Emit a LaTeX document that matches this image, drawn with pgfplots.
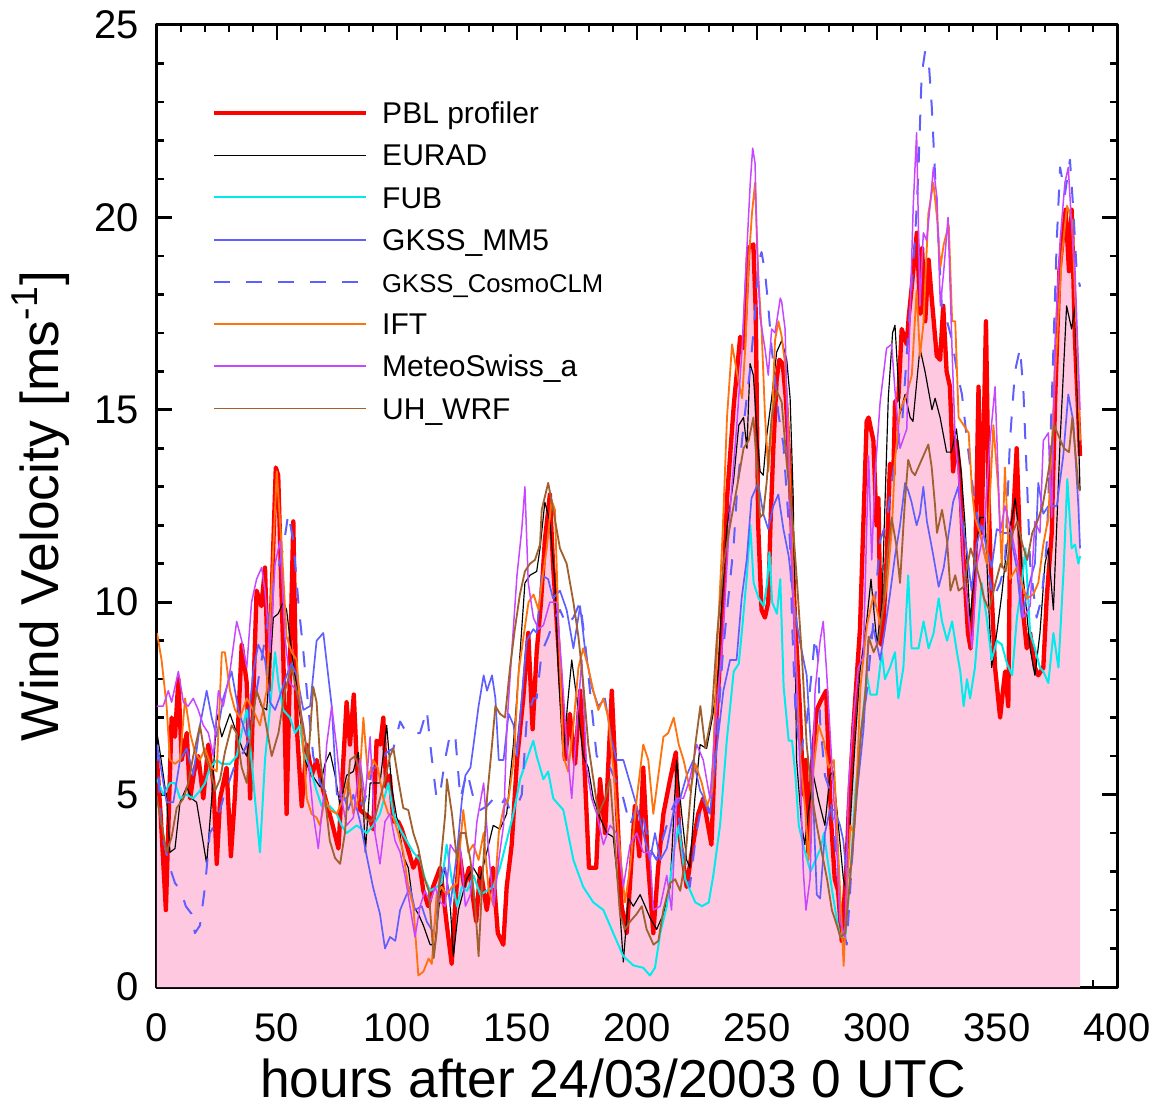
\documentclass[border=0pt]{standalone}
\usepackage{fontspec}
\setmainfont{Liberation Sans}
\usepackage{pgfplots}
\usepackage{pgfplotstable}
\pgfplotsset{compat=1.18}

\definecolor{pblred}{RGB}{255,0,0}
\definecolor{fubcyan}{RGB}{0,235,235}
\definecolor{gkssblue}{RGB}{95,95,255}
\definecolor{iftorange}{RGB}{255,115,15}
\definecolor{meteopurple}{RGB}{200,70,255}
\definecolor{wrfbrown}{RGB}{160,96,48}
\definecolor{pinkfill}{RGB}{255,200,225}

\pgfplotstableread[row sep=\\,header=false]{
0 5.9\\ 1.5 4.5\\ 3.7 2.0\\ 6.1 7.0\\ 7.5 6.5\\ 8.9 8.0\\ 10.3 5.9\\ 12.4 6.6\\ 13.8 4.9\\ 15.5 5.6\\
17.2 6.0\\ 19.3 4.9\\ 21.4 6.3\\ 23.5 5.3\\ 24.9 3.2\\ 26.3 4.9\\ 29.0 5.7\\ 30.8 3.4\\ 32.5 5.0\\ 35.3 8.9\\
37.4 7.9\\ 38.8 4.9\\ 41.5 10.3\\ 43.5 9.9\\ 45.0 10.9\\ 46.5 7.7\\ 49.5 13.5\\ 50.5 13.3\\ 52.6 8.7\\ 54.0 4.5\\
56.8 12.1\\ 58.2 6.8\\ 60.3 4.7\\ 62.4 6.3\\ 64.5 5.5\\ 66.5 5.9\\ 69.3 5.1\\ 72.8 4.3\\ 75.6 3.6\\ 79.0 7.4\\
80.4 6.3\\ 82.0 7.6\\ 83.2 5.9\\ 84.6 4.6\\ 86.5 4.5\\ 88.5 4.4\\ 90.1 4.1\\ 91.5 6.4\\ 93.0 6.3\\ 94.3 7.0\\
95.5 5.2\\ 97.0 5.5\\ 98.5 4.3\\ 100.5 4.3\\ 102.0 4.1\\ 104.0 3.7\\ 106.8 3.1\\ 108.9 3.4\\ 111.0 2.5\\ 113.0 2.1\\
115.0 2.6\\ 118.0 3.1\\ 120.6 1.7\\ 122.8 0.6\\ 124.2 2.1\\ 126.0 3.5\\ 128.0 2.6\\ 130.0 3.1\\ 133.0 1.7\\ 134.7 3.1\\
137.4 2.0\\ 140.0 3.1\\ 142.0 1.4\\ 144.3 1.1\\ 145.7 2.6\\ 147.8 3.7\\ 150.0 5.9\\ 152.6 7.5\\ 154.7 9.2\\ 156.5 6.7\\
158.2 8.7\\ 160.0 10.0\\ 161.6 11.6\\ 163.7 12.8\\ 165.0 11.0\\ 167.9 8.2\\ 170.0 5.9\\ 172.0 7.1\\ 174.2 5.8\\ 176.3 7.7\\
178.0 5.9\\ 180.0 3.1\\ 183.0 3.1\\ 184.6 5.4\\ 186.7 4.0\\ 189.5 7.7\\ 191.5 4.9\\ 193.6 2.1\\ 195.7 1.4\\ 197.0 2.6\\
199.1 4.7\\ 201.0 3.4\\ 202.6 5.7\\ 204.5 3.3\\ 206.8 1.4\\ 208.8 3.1\\ 211.0 4.5\\ 213.8 5.4\\ 216.2 6.1\\ 217.6 4.0\\
220.7 2.6\\ 222.8 3.5\\ 225.5 4.5\\ 227.6 4.9\\ 231.0 3.7\\ 233.0 6.9\\ 234.6 8.5\\ 236.0 10.2\\ 237.5 12.7\\ 240.3 15.1\\
243.0 16.9\\ 244.5 16.6\\ 246.4 19.2\\ 248.5 19.3\\ 249.5 17.5\\ 250.5 12.0\\ 251.9 9.8\\ 253.3 9.6\\ 254.7 10.0\\ 255.6 12.0\\
256.8 14.0\\ 258.2 15.8\\ 259.3 16.3\\ 260.7 16.2\\ 262.0 15.3\\ 263.5 13.6\\ 265.7 9.8\\ 267.9 7.2\\ 269.3 5.0\\ 270.4 5.9\\
271.4 3.5\\ 272.8 5.7\\ 274.9 7.2\\ 276.3 7.4\\ 278.8 7.7\\ 279.9 5.9\\ 281.0 4.2\\ 282.4 2.8\\ 283.8 2.5\\ 285.3 1.2\\
287.4 3.3\\ 288.2 4.6\\ 290.1 6.7\\ 292.9 9.3\\ 295.7 14.7\\ 296.5 14.8\\ 298.5 14.2\\ 299.8 12.0\\ 300.6 12.7\\ 301.6 8.9\\
302.6 9.3\\ 304.0 11.1\\ 305.4 13.6\\ 306.8 13.3\\ 307.5 15.2\\ 308.9 15.3\\ 310.3 17.1\\ 312.4 16.7\\ 313.2 17.4\\ 314.5 18.2\\
316.6 19.6\\ 318.0 17.5\\ 318.8 19.2\\ 320.1 17.3\\ 321.5 18.9\\ 322.8 17.9\\ 324.9 16.4\\ 326.3 16.3\\ 327.6 17.7\\ 329.0 16.0\\
330.4 15.6\\ 331.7 13.4\\ 333.1 14.2\\ 334.5 13.4\\ 335.8 11.4\\ 337.9 9.2\\ 339.0 8.8\\ 340.9 10.9\\ 342.3 15.6\\ 343.6 11.8\\
345.4 17.3\\ 346.6 12.5\\ 347.8 10.2\\ 349.2 8.3\\ 351.3 7.0\\ 352.3 7.6\\ 353.4 8.2\\ 354.7 7.3\\ 355.4 11.4\\ 357.0 12.5\\
358.2 14.0\\ 360.3 10.1\\ 362.4 8.8\\ 363.8 9.2\\ 365.8 8.3\\ 367.2 8.1\\ 369.3 8.3\\ 370.7 10.1\\ 372.8 11.8\\ 374.2 15.2\\
376.0 18.6\\ 378.6 20.2\\ 380.0 18.6\\ 381.1 20.2\\ 382.5 16.8\\ 384.6 13.8\\
}\tabpbl

\pgfplotstableread[row sep=\\,header=false]{
0 6.6\\ 1.5 6.0\\ 4.0 4.9\\ 5.4 3.5\\ 7.5 3.6\\ 9.6 4.8\\ 12.4 5.2\\ 14.4 4.9\\ 16.5 4.8\\ 18.6 4.0\\
20.7 3.2\\ 22.8 4.9\\ 24.9 7.1\\ 27.0 6.5\\ 30.4 7.1\\ 33.2 6.6\\ 35.5 6.2\\ 37.4 6.0\\ 39.4 6.8\\ 41.5 7.7\\
43.5 7.3\\ 45.7 7.2\\ 48.5 9.6\\ 50.5 9.7\\ 52.6 10.0\\ 54.0 9.8\\ 56.1 8.7\\ 58.2 7.8\\ 61.7 5.9\\ 63.7 5.6\\
65.8 5.4\\ 67.9 5.2\\ 70.0 5.8\\ 72.1 6.1\\ 74.2 5.5\\ 76.3 4.7\\ 79.0 5.5\\ 81.8 5.6\\ 83.9 6.1\\ 86.0 4.7\\
86.8 3.5\\ 88.8 5.3\\ 91.0 5.3\\ 92.9 5.3\\ 95.7 6.8\\ 97.8 5.2\\ 99.9 4.4\\ 100.5 4.3\\ 102.6 3.4\\ 104.7 3.1\\
106.8 2.1\\ 108.9 1.9\\ 111.0 1.6\\ 113.8 1.1\\ 115.8 1.1\\ 118.0 2.4\\ 120.0 3.1\\ 122.0 2.3\\ 123.5 0.8\\ 125.6 2.0\\
129.0 2.8\\ 131.8 3.1\\ 134.6 2.8\\ 137.4 3.5\\ 140.1 4.2\\ 142.9 4.1\\ 145.7 4.5\\ 148.5 6.3\\ 151.3 8.7\\ 153.3 10.5\\
155.4 10.7\\ 158.2 10.8\\ 159.6 11.4\\ 161.6 12.6\\ 163.7 12.1\\ 165.8 10.5\\ 167.2 8.2\\ 169.3 6.0\\ 171.0 7.3\\ 172.8 8.5\\
174.9 7.5\\ 177.6 6.0\\ 179.7 5.7\\ 181.8 4.9\\ 184.6 4.4\\ 187.4 4.0\\ 190.1 3.9\\ 192.2 2.6\\ 194.3 0.65\\ 196.4 2.3\\
198.5 2.1\\ 201.3 2.4\\ 203.4 2.1\\ 205.4 1.8\\ 208.2 1.5\\ 211.0 1.9\\ 213.8 2.6\\ 216.5 5.9\\ 218.6 4.5\\ 220.7 3.3\\
222.0 3.1\\ 224.1 4.9\\ 226.3 6.3\\ 229.0 6.2\\ 231.7 7.1\\ 233.9 8.2\\ 235.0 9.6\\ 237.4 11.9\\ 240.3 13.2\\ 242.4 14.6\\
244.4 14.8\\ 245.8 14.0\\ 247.1 16.2\\ 248.5 15.9\\ 249.9 14.5\\ 251.3 13.4\\ 252.6 13.3\\ 254.0 14.3\\ 256.1 15.3\\ 258.2 16.5\\
260.3 16.8\\ 262.4 16.3\\ 263.8 15.3\\ 265.1 12.7\\ 266.5 5.9\\ 268.6 4.2\\ 269.9 3.7\\ 271.3 4.5\\ 273.5 5.5\\ 275.5 4.9\\
278.3 4.2\\ 280.4 5.5\\ 281.8 5.6\\ 283.9 4.2\\ 286.0 2.8\\ 287.4 2.5\\ 288.8 4.2\\ 290.8 6.3\\ 292.9 8.2\\ 295.7 9.5\\
297.5 10.6\\ 300.0 8.9\\ 302.0 9.9\\ 304.7 15.3\\ 306.5 17.0\\ 307.5 17.2\\ 309.6 14.9\\ 311.7 15.4\\ 313.8 14.8\\ 315.0 14.7\\
317.9 16.6\\ 320.0 16.0\\ 322.9 15.0\\ 324.2 15.3\\ 326.3 14.8\\ 329.0 13.9\\ 331.0 13.9\\ 333.1 14.5\\ 335.2 13.3\\ 336.6 12.1\\
338.8 9.5\\ 340.8 11.0\\ 342.9 12.2\\ 345.0 12.2\\ 346.4 10.1\\ 347.8 8.3\\ 349.9 9.2\\ 352.0 10.2\\ 354.2 11.5\\ 356.3 12.2\\
357.6 12.7\\ 359.7 11.4\\ 361.8 10.1\\ 363.8 8.8\\ 365.8 8.1\\ 367.9 9.2\\ 370.0 11.0\\ 371.4 11.4\\ 373.5 9.8\\ 376.3 14.2\\
379.0 17.7\\ 381.1 17.1\\ 382.5 17.7\\ 384.6 12.9\\
}\tabeurad

\pgfplotstableread[row sep=\\,header=false]{
0 5.4\\ 2.6 5.0\\ 5.4 5.3\\ 7.5 5.3\\ 9.6 4.9\\ 12.4 5.0\\ 15.1 4.9\\ 17.9 5.1\\ 20.0 5.3\\ 22.0 5.7\\
24.9 5.9\\ 26.9 5.8\\ 30.4 5.8\\ 33.2 6.0\\ 35.9 6.8\\ 37.4 7.2\\ 38.8 6.3\\ 40.8 4.9\\ 42.9 3.5\\ 45.0 5.9\\
47.0 7.2\\ 49.2 8.7\\ 50.6 7.9\\ 52.6 7.2\\ 55.4 7.0\\ 57.5 6.6\\ 59.6 6.8\\ 61.0 6.1\\ 63.8 5.7\\ 66.5 5.1\\
68.6 4.7\\ 72.0 4.7\\ 74.9 4.5\\ 76.9 4.2\\ 79.0 4.0\\ 83.2 4.2\\ 87.4 4.0\\ 90.1 4.2\\ 92.9 4.5\\ 96.4 5.3\\
98.5 4.5\\ 101.3 4.1\\ 104.0 3.8\\ 106.8 3.5\\ 109.6 3.3\\ 111.7 2.8\\ 113.8 2.5\\ 116.5 2.6\\ 118.6 2.7\\ 120.7 3.7\\
122.8 2.8\\ 125.0 2.1\\ 127.0 2.6\\ 129.2 2.5\\ 131.9 2.9\\ 134.7 2.4\\ 137.4 2.5\\ 140.1 2.6\\ 142.9 3.1\\ 145.7 3.8\\
148.5 4.5\\ 151.3 5.4\\ 154.0 5.9\\ 156.8 6.4\\ 158.2 6.0\\ 161.0 5.4\\ 163.0 5.6\\ 165.1 4.9\\ 169.3 4.6\\ 173.5 3.3\\
177.6 2.6\\ 181.8 2.2\\ 186.0 2.0\\ 190.1 1.4\\ 194.3 0.8\\ 198.5 0.56\\ 202.6 0.5\\ 205.4 0.3\\ 207.5 0.5\\ 209.7 1.4\\
212.4 2.1\\ 215.3 3.5\\ 217.4 4.2\\ 220.1 2.8\\ 224.3 2.2\\ 227.1 2.1\\ 229.9 2.2\\ 231.8 2.9\\ 234.6 4.2\\ 237.4 6.4\\
240.3 8.2\\ 242.4 8.4\\ 243.8 9.3\\ 245.8 10.7\\ 247.2 12.0\\ 248.6 10.5\\ 250.7 10.1\\ 252.8 9.9\\ 254.2 10.5\\ 255.2 11.3\\
256.3 10.0\\ 258.3 9.7\\ 259.7 10.6\\ 261.1 7.8\\ 263.2 6.4\\ 264.6 6.4\\ 266.0 5.5\\ 267.4 4.2\\ 269.6 3.6\\ 272.3 3.0\\
274.4 3.3\\ 276.5 3.6\\ 277.9 4.0\\ 279.2 3.4\\ 281.3 2.5\\ 283.4 1.7\\ 284.7 1.3\\ 286.8 1.3\\ 288.9 2.9\\ 291.0 5.1\\
293.8 6.9\\ 295.8 8.1\\ 297.2 7.6\\ 299.9 7.6\\ 302.0 8.7\\ 303.3 8.0\\ 305.4 8.3\\ 307.5 8.7\\ 308.9 7.5\\ 311.0 8.3\\
313.0 10.7\\ 314.4 8.8\\ 317.3 8.8\\ 319.4 9.5\\ 321.5 8.8\\ 323.6 9.2\\ 325.7 10.1\\ 327.1 9.5\\ 329.2 9.0\\ 331.3 9.5\\
333.3 8.7\\ 334.7 8.2\\ 336.1 7.3\\ 337.5 8.0\\ 338.8 7.5\\ 340.8 8.3\\ 343.6 10.5\\ 345.7 9.6\\ 347.8 8.5\\ 349.9 9.0\\
352.0 8.9\\ 354.2 8.4\\ 356.3 8.1\\ 358.3 9.6\\ 360.4 10.5\\ 361.8 11.4\\ 363.8 9.2\\ 365.8 8.8\\ 367.9 8.3\\ 369.3 8.2\\
371.4 7.9\\ 373.5 9.2\\ 375.6 8.3\\ 377.8 10.9\\ 379.3 13.2\\ 381.1 11.4\\ 382.5 11.5\\ 383.9 11.0\\ 384.6 11.2\\
}\tabfub

\pgfplotstableread[row sep=\\,header=false]{
0 6.3\\ 4.0 4.8\\ 6.8 4.8\\ 9.6 5.9\\ 12.4 6.2\\ 15.1 5.5\\ 17.9 6.8\\ 20.7 7.7\\ 22.8 7.0\\ 24.9 6.5\\
27.6 7.5\\ 31.1 8.2\\ 33.9 7.2\\ 37.4 6.5\\ 40.1 8.2\\ 42.2 8.9\\ 45.0 8.5\\ 47.1 7.4\\ 49.2 7.2\\ 52.0 7.7\\
54.0 8.1\\ 56.1 8.4\\ 58.2 8.1\\ 61.0 7.2\\ 63.8 7.3\\ 66.5 9.0\\ 69.3 9.2\\ 72.8 7.3\\ 74.9 5.0\\ 77.6 5.0\\
79.7 4.6\\ 81.8 5.0\\ 84.6 4.3\\ 87.4 3.4\\ 90.0 2.6\\ 92.9 1.9\\ 95.0 1.0\\ 97.1 1.3\\ 99.3 1.2\\ 101.3 2.0\\
103.3 2.3\\ 105.4 2.6\\ 107.5 2.0\\ 110.3 2.1\\ 112.4 1.7\\ 115.3 1.4\\ 118.0 2.9\\ 120.1 3.1\\ 122.2 2.1\\ 125.0 3.5\\
127.1 4.9\\ 128.5 5.5\\ 130.6 5.7\\ 131.9 6.3\\ 134.0 7.3\\ 136.1 8.1\\ 137.5 7.7\\ 139.6 8.1\\ 141.0 7.5\\ 142.4 5.9\\
144.4 5.9\\ 146.5 7.1\\ 148.6 6.8\\ 150.0 6.0\\ 152.0 7.5\\ 154.0 9.0\\ 156.8 9.3\\ 158.2 9.2\\ 160.3 10.7\\ 163.0 10.6\\
165.0 10.1\\ 167.9 10.3\\ 170.7 9.8\\ 173.5 8.8\\ 176.3 9.9\\ 178.3 8.8\\ 181.1 7.8\\ 183.9 7.3\\ 186.7 7.5\\ 189.4 6.4\\
191.5 5.9\\ 194.3 5.9\\ 197.1 5.3\\ 199.9 4.7\\ 202.6 4.0\\ 205.4 3.3\\ 207.5 4.0\\ 209.7 3.3\\ 212.4 3.6\\ 215.3 4.6\\
218.0 4.9\\ 220.7 5.5\\ 223.5 5.9\\ 226.3 5.1\\ 229.0 4.8\\ 230.4 4.5\\ 233.2 6.2\\ 236.0 7.7\\ 238.8 8.5\\ 241.5 8.5\\
243.6 10.1\\ 245.7 11.1\\ 247.7 12.7\\ 250.5 13.1\\ 252.6 12.3\\ 254.7 11.9\\ 256.8 12.5\\ 258.9 12.8\\ 261.0 11.9\\ 263.2 11.2\\
264.6 10.4\\ 266.7 9.4\\ 268.1 8.9\\ 270.7 8.1\\ 272.8 5.9\\ 274.9 2.4\\ 276.3 2.3\\ 278.3 4.0\\ 280.4 4.6\\ 282.5 4.6\\
284.6 4.2\\ 286.0 3.8\\ 287.4 2.8\\ 289.5 3.2\\ 291.6 5.0\\ 294.4 6.7\\ 296.5 9.0\\ 298.6 9.3\\ 301.3 8.5\\ 303.3 9.3\\
305.4 10.2\\ 307.5 11.2\\ 309.6 12.0\\ 311.7 13.1\\ 313.0 12.9\\ 314.4 12.6\\ 316.5 12.0\\ 317.9 12.3\\ 319.3 13.0\\ 320.8 12.1\\
323.5 11.2\\ 325.7 10.4\\ 327.8 10.9\\ 329.9 11.8\\ 331.7 12.6\\ 333.8 13.0\\ 335.2 12.2\\ 337.3 11.4\\ 339.4 10.3\\ 341.5 11.5\\
343.6 12.0\\ 345.7 11.4\\ 347.8 10.9\\ 349.9 11.9\\ 352.6 11.8\\ 355.4 11.8\\ 358.2 10.9\\ 360.3 9.6\\ 362.4 10.2\\ 364.4 10.7\\
365.8 11.0\\ 367.2 13.1\\ 369.3 12.3\\ 371.4 12.5\\ 374.9 12.5\\ 377.6 13.8\\ 379.7 15.4\\ 381.8 14.7\\ 383.9 12.5\\ 384.6 11.4\\
}\tabmm

\pgfplotstableread[row sep=\\,header=false]{
0 6.3\\ 1.9 4.0\\ 5.4 3.1\\ 7.5 2.7\\ 10.0 2.5\\ 12.0 2.1\\ 14.4 1.9\\ 15.8 1.4\\ 17.9 1.6\\ 20.0 2.6\\
22.0 4.0\\ 24.9 4.3\\ 27.6 4.9\\ 30.4 5.4\\ 33.2 5.9\\ 36.0 6.1\\ 38.8 6.5\\ 41.5 7.7\\ 43.6 8.5\\ 46.4 9.6\\
48.5 10.5\\ 50.6 10.9\\ 52.6 11.4\\ 54.7 12.3\\ 56.8 11.6\\ 58.9 10.0\\ 61.0 8.7\\ 63.0 7.3\\ 65.1 6.0\\ 67.9 5.3\\
72.0 4.9\\ 76.3 4.9\\ 79.0 4.9\\ 80.4 5.1\\ 86.0 4.7\\ 90.0 5.7\\ 92.9 5.7\\ 95.7 6.1\\ 98.5 6.2\\ 101.3 6.9\\
104.0 6.6\\ 106.8 6.6\\ 109.6 6.6\\ 112.4 7.2\\ 114.4 6.0\\ 116.5 4.9\\ 117.9 5.0\\ 120.0 5.9\\ 122.2 6.6\\ 124.3 6.5\\
126.4 4.9\\ 129.2 5.6\\ 131.9 4.9\\ 134.7 4.6\\ 137.5 4.7\\ 140.3 4.9\\ 143.0 4.7\\ 145.0 4.9\\ 147.1 4.6\\ 150.0 4.7\\
152.0 5.0\\ 154.0 6.9\\ 156.8 7.5\\ 158.2 7.5\\ 160.3 8.7\\ 163.0 9.1\\ 165.8 9.6\\ 167.9 9.8\\ 170.7 9.4\\ 173.5 9.6\\
176.3 10.0\\ 178.3 9.0\\ 180.4 7.7\\ 183.2 6.0\\ 185.3 5.9\\ 188.8 5.7\\ 191.5 5.3\\ 194.3 4.9\\ 197.1 4.2\\ 199.9 4.7\\
202.6 4.4\\ 205.4 3.6\\ 208.2 3.3\\ 211.0 3.9\\ 213.8 4.5\\ 216.5 4.9\\ 219.3 3.5\\ 222.0 2.6\\ 224.7 4.0\\ 227.5 4.9\\
230.3 4.5\\ 233.0 6.2\\ 235.8 8.7\\ 238.7 10.5\\ 240.3 11.5\\ 241.7 12.9\\ 244.4 14.6\\ 247.2 16.1\\ 249.2 17.5\\ 250.5 18.8\\
251.9 19.1\\ 253.3 18.6\\ 254.7 17.7\\ 256.1 16.6\\ 257.5 15.8\\ 258.9 14.9\\ 261.0 14.1\\ 262.4 12.8\\ 263.8 11.5\\ 264.6 9.5\\
266.0 7.2\\ 268.0 6.0\\ 270.7 6.9\\ 272.5 8.0\\ 274.2 9.1\\ 275.5 8.5\\ 276.3 6.9\\ 278.3 5.5\\ 280.4 5.1\\ 283.2 3.3\\
285.3 1.7\\ 287.4 1.1\\ 288.8 2.5\\ 290.8 4.6\\ 292.9 6.4\\ 295.8 7.7\\ 298.5 9.5\\ 301.3 11.6\\ 304.0 12.1\\ 306.8 13.4\\
309.6 14.5\\ 310.4 14.6\\ 313.8 17.7\\ 315.8 19.4\\ 317.2 21.1\\ 318.6 23.7\\ 320.0 24.3\\ 321.4 24.2\\ 322.8 22.9\\ 324.2 21.1\\
325.6 19.4\\ 327.0 17.7\\ 329.2 17.3\\ 331.3 16.8\\ 333.3 16.0\\ 335.4 15.4\\ 337.5 14.2\\ 340.3 12.8\\ 343.0 11.8\\ 345.7 11.0\\
348.5 10.1\\ 351.3 10.5\\ 353.3 11.0\\ 355.4 14.2\\ 357.5 16.0\\ 359.6 16.6\\ 361.0 15.5\\ 362.4 13.3\\ 363.8 11.0\\ 366.5 9.6\\
368.6 10.1\\ 370.7 11.5\\ 372.8 15.2\\ 374.9 19.4\\ 376.3 21.3\\ 378.3 20.6\\ 380.4 21.5\\ 381.8 20.2\\ 383.2 18.6\\ 384.6 18.2\\
}\tabclm

\pgfplotstableread[row sep=\\,header=false]{
0 9.2\\ 1.9 8.5\\ 4.0 7.3\\ 5.4 5.9\\ 7.5 5.8\\ 9.6 5.9\\ 11.7 7.5\\ 13.8 6.6\\ 15.8 6.1\\ 17.9 5.9\\
20.0 6.2\\ 22.8 5.7\\ 24.9 5.6\\ 27.0 8.7\\ 28.3 8.7\\ 30.4 7.7\\ 32.5 7.2\\ 34.6 7.0\\ 37.4 7.5\\ 40.1 7.2\\
42.9 6.8\\ 45.7 7.7\\ 47.8 10.5\\ 49.9 13.4\\ 52.0 11.4\\ 54.0 9.1\\ 56.1 8.7\\ 58.2 8.5\\ 60.3 6.8\\ 62.4 4.9\\
64.4 4.5\\ 66.5 4.4\\ 67.9 4.2\\ 70.0 4.9\\ 72.1 4.6\\ 74.9 4.5\\ 77.6 4.9\\ 79.7 5.4\\ 81.8 4.5\\ 83.9 4.9\\
86.0 7.0\\ 88.0 5.4\\ 90.0 5.9\\ 92.0 5.7\\ 94.3 4.9\\ 96.4 4.5\\ 98.5 4.4\\ 100.5 4.0\\ 102.6 3.5\\ 104.7 2.6\\
106.8 2.1\\ 108.9 0.3\\ 111.0 0.4\\ 113.2 0.74\\ 114.5 0.6\\ 116.5 2.4\\ 118.6 2.6\\ 120.7 2.4\\ 122.9 2.6\\ 125.0 2.7\\
127.6 4.6\\ 129.7 3.5\\ 131.8 3.7\\ 134.0 3.3\\ 136.1 4.0\\ 138.2 2.5\\ 140.3 2.1\\ 142.4 4.0\\ 144.4 4.65\\ 146.5 4.9\\
148.6 5.9\\ 150.7 8.2\\ 152.7 9.1\\ 154.8 10.0\\ 156.9 10.2\\ 159.0 9.8\\ 160.3 10.5\\ 162.4 11.4\\ 164.4 12.65\\ 165.8 12.4\\
167.2 9.6\\ 169.3 6.0\\ 171.3 5.6\\ 173.5 6.8\\ 175.6 8.3\\ 177.6 8.8\\ 179.7 8.3\\ 181.8 7.7\\ 183.9 7.2\\ 186.0 7.5\\
188.0 7.0\\ 190.1 5.7\\ 192.2 4.0\\ 195.0 2.2\\ 197.1 3.1\\ 199.9 4.9\\ 202.6 6.3\\ 204.7 5.9\\ 206.8 4.5\\ 208.9 5.5\\
211.0 6.5\\ 213.0 6.6\\ 215.3 7.0\\ 217.4 6.3\\ 219.4 5.9\\ 222.2 5.1\\ 224.3 5.8\\ 227.0 5.3\\ 229.2 4.7\\ 231.3 5.1\\
233.3 8.7\\ 235.4 11.4\\ 236.0 12.3\\ 237.5 14.8\\ 239.6 16.7\\ 241.0 16.2\\ 242.4 15.7\\ 243.8 15.3\\ 245.1 16.6\\ 246.5 18.8\\
247.9 20.1\\ 249.2 20.9\\ 250.6 18.4\\ 251.9 17.1\\ 253.3 14.9\\ 254.7 13.4\\ 256.1 14.5\\ 257.5 16.8\\ 258.9 17.3\\ 260.3 16.9\\
261.7 16.2\\ 263.1 14.5\\ 264.4 11.9\\ 266.0 8.9\\ 268.1 5.9\\ 270.1 4.6\\ 271.5 3.3\\ 273.6 5.7\\ 275.7 6.8\\ 277.8 6.4\\
279.9 5.7\\ 282.0 5.9\\ 284.0 3.3\\ 286.1 0.55\\ 287.5 2.5\\ 288.9 4.2\\ 290.3 4.0\\ 291.7 5.5\\ 293.1 7.8\\ 295.8 9.4\\
298.6 10.2\\ 301.4 9.4\\ 304.2 10.5\\ 306.2 11.9\\ 307.5 13.7\\ 309.6 15.0\\ 312.4 15.4\\ 314.5 15.9\\ 316.5 18.1\\ 317.9 16.4\\
319.3 17.2\\ 321.4 20.1\\ 323.5 20.9\\ 325.0 20.0\\ 326.4 18.7\\ 327.8 19.3\\ 329.9 19.8\\ 331.3 17.3\\ 332.6 17.3\\ 334.0 14.8\\
336.1 14.6\\ 338.2 14.4\\ 339.6 12.9\\ 340.8 12.2\\ 342.9 11.8\\ 345.7 11.0\\ 348.5 14.6\\ 350.6 12.9\\ 352.0 10.9\\ 353.3 13.5\\
355.4 10.6\\ 358.2 10.9\\ 360.3 10.5\\ 362.4 10.1\\ 365.1 10.2\\ 367.2 10.5\\ 369.3 11.5\\ 371.4 12.2\\ 374.2 15.9\\ 377.0 19.0\\
379.2 20.3\\ 381.3 19.9\\ 383.3 16.8\\ 384.6 14.2\\
}\tabift

\pgfplotstableread[row sep=\\,header=false]{
0 7.3\\ 2.6 7.3\\ 4.7 7.7\\ 6.1 7.4\\ 8.9 8.2\\ 11.0 7.4\\ 13.0 7.3\\ 15.1 7.5\\ 17.2 7.2\\ 19.3 6.8\\
21.4 6.6\\ 23.5 6.0\\ 25.6 7.7\\ 27.6 7.3\\ 30.4 8.2\\ 33.2 9.5\\ 35.3 9.0\\ 37.4 8.3\\ 39.4 10.0\\ 41.5 10.6\\
43.6 10.9\\ 45.0 10.3\\ 47.1 8.7\\ 49.2 11.0\\ 51.3 11.6\\ 53.3 9.1\\ 55.4 7.9\\ 58.2 7.7\\ 61.0 6.8\\ 63.0 5.9\\
65.1 4.5\\ 67.2 3.6\\ 69.3 4.9\\ 70.7 6.3\\ 72.8 7.3\\ 74.9 6.2\\ 76.9 4.9\\ 79.0 4.2\\ 81.8 4.4\\ 84.6 5.9\\
86.7 4.9\\ 88.8 6.5\\ 90.8 4.0\\ 92.9 3.2\\ 95.0 4.3\\ 97.1 4.5\\ 99.2 3.8\\ 101.3 3.5\\ 103.3 2.9\\ 105.4 2.1\\
107.5 1.3\\ 109.6 2.1\\ 111.7 2.5\\ 113.8 2.2\\ 115.9 2.6\\ 118.0 2.2\\ 120.1 2.1\\ 122.2 3.7\\ 124.3 3.5\\ 126.4 3.6\\
128.5 2.1\\ 130.6 2.4\\ 133.3 4.3\\ 136.1 5.3\\ 138.2 3.5\\ 140.3 2.1\\ 142.4 3.3\\ 144.4 4.2\\ 145.8 6.8\\ 147.8 8.7\\
150.0 10.7\\ 152.0 11.9\\ 153.3 13.0\\ 154.7 10.5\\ 156.8 9.6\\ 159.0 9.3\\ 161.0 9.4\\ 163.7 10.0\\ 166.5 10.0\\ 168.6 8.3\\
170.7 6.3\\ 172.8 4.9\\ 174.9 6.8\\ 177.0 8.5\\ 179.0 5.7\\ 181.1 4.9\\ 183.2 4.5\\ 186.0 3.7\\ 188.8 4.2\\ 191.5 4.0\\
194.3 2.6\\ 197.1 3.7\\ 199.9 4.0\\ 202.6 3.5\\ 205.4 3.5\\ 206.8 2.0\\ 209.7 2.1\\ 212.4 2.9\\ 214.4 2.0\\ 216.5 4.9\\
219.3 4.9\\ 222.0 5.4\\ 224.9 6.3\\ 227.6 5.9\\ 230.4 4.9\\ 233.2 7.2\\ 235.8 9.1\\ 238.9 12.5\\ 241.7 14.7\\ 243.8 16.6\\
245.8 19.2\\ 247.2 20.9\\ 248.2 21.8\\ 249.2 21.4\\ 250.0 19.2\\ 251.3 17.4\\ 253.3 16.6\\ 254.7 15.9\\ 256.1 17.1\\ 257.5 17.0\\
259.7 17.9\\ 260.3 17.8\\ 261.7 17.1\\ 263.1 13.6\\ 265.1 10.0\\ 267.0 7.0\\ 268.0 5.6\\ 269.3 3.0\\ 270.4 2.0\\ 272.1 2.8\\
274.2 7.7\\ 276.3 9.0\\ 277.6 9.5\\ 279.0 8.2\\ 281.1 5.9\\ 283.2 3.6\\ 284.6 1.7\\ 286.7 1.3\\ 288.1 5.2\\ 290.1 6.9\\
292.2 8.3\\ 294.3 8.6\\ 296.5 13.8\\ 297.8 11.1\\ 299.2 13.3\\ 301.3 15.2\\ 304.0 16.6\\ 306.1 16.7\\ 307.5 15.5\\ 309.6 14.0\\
312.4 14.5\\ 315.1 20.3\\ 316.5 22.2\\ 317.9 17.7\\ 319.3 19.6\\ 320.7 19.4\\ 322.1 20.3\\ 323.5 21.3\\ 325.0 20.5\\ 326.4 17.7\\
327.8 18.6\\ 329.6 20.0\\ 331.3 16.5\\ 332.6 14.2\\ 334.0 13.3\\ 336.1 10.9\\ 338.2 9.6\\ 339.6 8.8\\ 341.7 11.0\\ 344.5 11.8\\
347.1 14.2\\ 349.2 15.6\\ 351.3 11.8\\ 353.3 12.5\\ 356.1 11.8\\ 358.9 10.9\\ 361.0 9.6\\ 363.8 9.9\\ 365.8 12.1\\ 367.9 11.8\\
369.3 14.2\\ 371.4 14.4\\ 372.8 12.2\\ 374.2 16.8\\ 376.3 19.4\\ 378.3 20.9\\ 379.7 21.3\\ 381.1 19.8\\ 382.5 18.6\\ 384.6 15.0\\
}\tabmeteo

\pgfplotstableread[row sep=\\,header=false]{
0 4.9\\ 2.6 4.0\\ 4.0 3.5\\ 6.1 3.9\\ 8.2 4.65\\ 11.0 4.9\\ 13.0 5.3\\ 15.1 6.0\\ 17.9 6.8\\ 20.0 6.0\\
22.0 5.7\\ 24.2 5.1\\ 26.3 5.4\\ 28.3 6.1\\ 31.1 6.8\\ 33.2 6.6\\ 35.3 5.7\\ 37.4 5.3\\ 39.4 6.8\\ 41.5 7.7\\
44.3 7.2\\ 47.8 6.0\\ 50.6 6.6\\ 53.3 7.7\\ 56.1 8.3\\ 58.9 7.5\\ 61.0 6.7\\ 63.0 5.9\\ 65.1 7.8\\ 66.5 7.4\\
67.9 6.0\\ 70.0 4.9\\ 72.0 3.8\\ 74.2 3.35\\ 76.3 3.2\\ 78.3 4.0\\ 80.4 5.9\\ 82.5 6.0\\ 84.6 5.6\\ 86.7 4.4\\
88.8 4.3\\ 90.8 4.4\\ 92.9 4.9\\ 95.0 5.4\\ 97.1 6.0\\ 98.5 6.2\\ 100.5 5.4\\ 102.6 4.65\\ 104.7 4.6\\ 106.8 4.0\\
108.9 3.6\\ 111.0 2.9\\ 113.2 2.5\\ 115.3 0.75\\ 116.5 1.4\\ 118.0 3.1\\ 120.1 4.5\\ 120.8 5.4\\ 122.9 4.5\\ 125.0 3.3\\
126.4 4.0\\ 128.5 4.0\\ 130.6 3.3\\ 132.6 2.1\\ 134.0 0.8\\ 135.4 2.6\\ 137.5 4.9\\ 139.6 6.3\\ 141.0 7.3\\ 142.9 7.1\\
145.0 7.0\\ 147.1 8.3\\ 149.1 9.3\\ 151.2 10.2\\ 153.3 10.8\\ 155.4 11.0\\ 157.5 11.1\\ 159.6 11.5\\ 160.3 12.4\\ 163.0 13.1\\
165.1 12.4\\ 167.9 11.4\\ 170.7 11.0\\ 173.5 10.0\\ 175.6 9.1\\ 177.6 7.9\\ 179.7 6.3\\ 181.8 5.4\\ 183.9 4.5\\ 186.7 4.9\\
188.8 5.4\\ 190.8 3.7\\ 192.9 1.9\\ 195.0 1.5\\ 197.1 1.7\\ 199.9 1.9\\ 202.0 2.1\\ 204.0 1.5\\ 206.9 1.1\\ 208.9 1.2\\
211.0 2.0\\ 213.8 2.7\\ 215.9 2.8\\ 218.0 2.5\\ 220.1 3.3\\ 222.2 4.9\\ 224.3 6.3\\ 226.4 7.3\\ 228.5 6.2\\ 231.2 7.1\\
233.3 9.1\\ 236.1 11.0\\ 238.8 12.0\\ 241.7 13.0\\ 244.4 14.0\\ 246.5 14.2\\ 248.5 14.8\\ 250.0 13.5\\ 251.3 12.2\\ 252.6 12.3\\
254.0 13.1\\ 256.1 14.8\\ 258.2 15.5\\ 260.3 15.2\\ 262.4 13.6\\ 264.6 12.3\\ 266.7 10.5\\ 268.8 8.5\\ 270.7 6.3\\ 272.8 5.0\\
274.9 4.2\\ 277.0 3.5\\ 279.2 2.8\\ 281.2 2.0\\ 283.3 1.6\\ 284.7 1.3\\ 286.8 1.4\\ 288.9 2.9\\ 291.0 4.6\\ 293.1 6.4\\
295.1 7.6\\ 296.5 9.1\\ 298.6 8.7\\ 300.7 9.0\\ 302.8 10.0\\ 304.5 11.3\\ 306.1 12.2\\ 308.0 11.5\\ 309.6 10.5\\ 311.5 12.5\\
313.0 13.7\\ 314.5 13.4\\ 315.8 13.3\\ 318.6 13.7\\ 321.4 14.1\\ 322.8 13.5\\ 324.2 12.5\\ 325.0 11.8\\ 327.1 12.4\\ 329.2 11.6\\
330.6 10.3\\ 332.6 10.7\\ 334.0 10.3\\ 336.1 10.4\\ 339.0 11.4\\ 341.1 11.0\\ 343.2 10.5\\ 344.6 10.1\\ 346.7 9.8\\ 349.4 10.5\\
351.5 11.0\\ 353.6 10.8\\ 356.4 11.8\\ 358.5 12.1\\ 360.6 11.5\\ 362.6 11.1\\ 364.7 11.8\\ 366.8 12.1\\ 369.0 12.5\\ 371.7 13.5\\
373.8 14.6\\ 375.8 14.3\\ 377.9 14.0\\ 380.0 13.9\\ 381.4 14.8\\ 383.9 13.0\\ 384.6 12.9\\
}\tabwrf

\begin{document}
\begin{tikzpicture}
\begin{axis}[
  name=ax,
  scale only axis,
  width=288pt, height=288.6pt,
  xmin=0, xmax=400, ymin=0, ymax=25,
  xtick={0,50,...,400}, ytick={0,5,...,25},
  minor x tick num=4, minor y tick num=4,
  tick align=inside,
  major tick length=4.5pt, minor tick length=2.2pt,
  every tick/.style={black, line width=0.8pt},
  axis line style={line width=0.9pt},
  /pgf/number format/assume math mode=true,
  tick label style={font=\fontsize{12}{14}\selectfont},
  xticklabel style={yshift=-4.5pt},
  yticklabel style={xshift=-2pt},
  xlabel={hours after 24/03/2003 0 UTC},
  ylabel={Wind Velocity [ms\textsuperscript{-1}]},
  xlabel style={font=\fontsize{16}{19}\selectfont, at={(axis description cs:0.475,-0.0745)}, anchor=north, inner sep=0pt},
  ylabel style={font=\fontsize{16}{19}\selectfont, at={(axis description cs:-0.1031,0.5)}, anchor=base, inner sep=0pt},
  legend style={draw=none, fill=none, inner sep=0pt, outer sep=0pt,
    at={(axis description cs:0.0572,0.9234)}, anchor=north west,
    row sep=4.06pt, column sep=4.2pt,
    font=\fontsize{9}{10}\selectfont,
    nodes={inner sep=0pt, text height=7.5pt, text depth=1.1pt},
    cells={anchor=west}},
  legend image code/.code={\draw[#1] (0pt,0pt) -- (45.6pt,0pt);},
  line join=round,
]
\addplot[draw=none, fill=pinkfill, forget plot] table[x index=0, y index=1] {\tabpbl} \closedcycle;
\addplot[color=pblred, line width=1.3pt] table[x index=0, y index=1] {\tabpbl};
\addlegendentry{PBL profiler}
\addplot[color=black, line width=0.35pt] table[x index=0, y index=1] {\tabeurad};
\addlegendentry{EURAD}
\addplot[color=fubcyan, line width=0.6pt] table[x index=0, y index=1] {\tabfub};
\addlegendentry{FUB}
\addplot[color=gkssblue, line width=0.5pt, legend image post style={line width=0.65pt, color=gkssblue}] table[x index=0, y index=1] {\tabmm};
\addlegendentry{GKSS\_MM5}
\addplot[color=gkssblue, line width=0.6pt, dash pattern=on 4.8pt off 4.8pt] table[x index=0, y index=1] {\tabclm};
\addlegendentry{{\fontsize{7.7}{9}\selectfont GKSS\_CosmoCLM}}
\addplot[color=iftorange, line width=0.55pt] table[x index=0, y index=1] {\tabift};
\addlegendentry{IFT}
\addplot[color=meteopurple, line width=0.45pt] table[x index=0, y index=1] {\tabmeteo};
\addlegendentry{MeteoSwiss\_a}
\addplot[color=wrfbrown, line width=0.55pt] table[x index=0, y index=1] {\tabwrf};
\addlegendentry{UH\_WRF}
\end{axis}
\pgfresetboundingbox
\path[use as bounding box] ([xshift=-47.1pt,yshift=-35.4pt]ax.south west) rectangle ([xshift=12pt,yshift=7.5pt]ax.north east);
\end{tikzpicture}
\end{document}
